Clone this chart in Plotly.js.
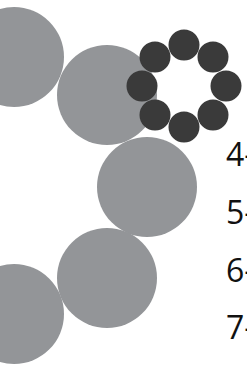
<!DOCTYPE html>
<html><head><meta charset="utf-8">
<script src="https://cdn.plot.ly/plotly-3.0.1.min.js"></script>
<style>html,body{margin:0;padding:0;background:#fff;overflow:hidden}#c{width:247px;height:371px}</style>
</head><body><div id="c"></div>
<script>
// Large ring of gray circles (visible part)
var bigX = [14, 107, 147, 107, 14];
var bigY = [57, 95, 187, 278, 314];
// Small ring of dark circles
var smallX = [184, 213, 226, 213, 184, 155, 142, 155];
var smallY = [45, 57, 86, 115, 127, 115, 86, 57];
// Labels at right edge
var labels = ["4-", "5-", "6-", "7-"];
var labelX = [226, 226, 226, 226];
var labelY = [158, 216, 274, 331];

var traces = [
  {x: bigX, y: bigY, mode: 'markers', type: 'scatter',
   marker: {size: 100, color: '#939598', line: {width: 0}}, hoverinfo: 'skip'},
  {x: smallX, y: smallY, mode: 'markers', type: 'scatter',
   marker: {size: 31, color: '#3a3a3a', line: {width: 0}}, hoverinfo: 'skip'},
  {x: labelX, y: labelY, mode: 'text', type: 'scatter', text: labels,
   textposition: 'middle right', textfont: {family: 'Open Sans', size: 32, color: '#111'},
   hoverinfo: 'skip', cliponaxis: false}
];
var layout = {
  width: 247, height: 371, margin: {l: 0, r: 0, t: 0, b: 0},
  paper_bgcolor: '#fff', plot_bgcolor: '#fff', showlegend: false,
  xaxis: {range: [0, 247], visible: false, fixedrange: true},
  yaxis: {range: [371, 0], visible: false, fixedrange: true}
};
Plotly.newPlot('c', traces, layout, {staticPlot: true, displayModeBar: false});
</script></body></html>
